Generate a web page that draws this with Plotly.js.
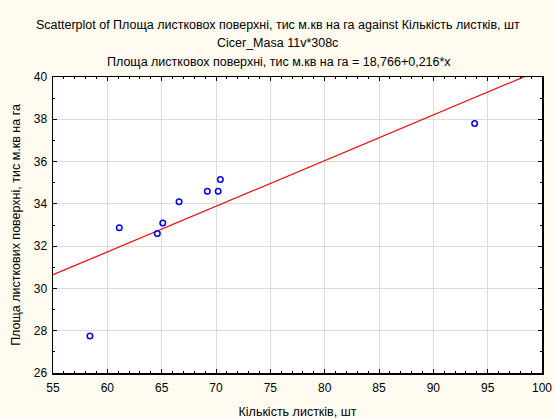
<!DOCTYPE html>
<html>
<head>
<meta charset="utf-8">
<script src="https://cdn.plot.ly/plotly-3.0.1.min.js"></script>
<style>html,body{margin:0;padding:0;background:#fffbf0;}#chart{width:555px;height:419px;}</style>
</head>
<body>
<div id="chart"></div>
<script>
const leafCount = [58.4, 61.1, 64.6, 65.1, 66.6, 69.2, 70.2, 70.4, 93.8];
const leafArea = [27.75, 32.87, 32.6, 33.1, 34.1, 34.6, 34.6, 35.15, 37.8];
const intercept = 18.766;
const slope = 0.216;
const fitX = [55, 100];
const fitY = fitX.map(x => intercept + slope * x);
const xTicks = [55, 60, 65, 70, 75, 80, 85, 90, 95, 100];
const yTicks = [26, 28, 30, 32, 34, 36, 38, 40];

const fam = 'Liberation Sans, Arial, sans-serif';
const tickFont = {family: fam, size: 12, color: '#000'};
const titleFont = {family: fam, size: 12.5, color: '#000'};

Plotly.newPlot('chart', [
  {x: fitX, y: fitY, mode: 'lines', line: {color: '#ff0000', width: 1.2}, hoverinfo: 'skip'},
  {x: leafCount, y: leafArea, mode: 'markers', marker: {symbol: 'circle-open', color: '#0000ff', size: 5.5, line: {width: 1.5, color: '#0000ff'}}}
], {
  width: 555, height: 419,
  paper_bgcolor: '#fffbf0', plot_bgcolor: '#ffffff',
  showlegend: false,
  margin: {l: 53, r: 13, t: 77, b: 46},
  font: tickFont,
  xaxis: {
    range: [55, 100], tickvals: xTicks, ticktext: xTicks.map(String),
    showgrid: true, gridcolor: '#dcdcdc', gridwidth: 1,
    zeroline: false, showline: true, linecolor: '#000', linewidth: 1.5, mirror: 'allticks',
    ticks: 'inside', ticklen: 4, tickcolor: '#000', ticklabelstandoff: 3,
    minor: {dtick: 1, ticks: 'inside', ticklen: 2, tickcolor: '#000', showgrid: false},
    tickfont: tickFont,
    title: {text: 'Кількість листків, шт', font: titleFont, standoff: 14}
  },
  yaxis: {
    range: [26, 40], tickvals: yTicks, ticktext: yTicks.map(String),
    showgrid: true, gridcolor: '#dcdcdc', gridwidth: 1,
    zeroline: false, showline: true, linecolor: '#000', linewidth: 1.5, mirror: 'allticks',
    ticks: 'inside', ticklen: 4, tickcolor: '#000', ticklabelstandoff: 2,
    minor: {dtick: 1, ticks: 'inside', ticklen: 2, tickcolor: '#000', showgrid: false},
    tickfont: tickFont,
    title: {text: 'Площа листкових поверхні, тис м.кв на га', font: titleFont, standoff: 10}
  },
  annotations: [
    {text: 'Scatterplot of Площа листковох поверхні, тис м.кв на га against Кількість листків, шт', xref: 'paper', yref: 'paper', x: 0.5, y: 1, xshift: -20, yshift: 52, showarrow: false, font: titleFont, xanchor: 'center', yanchor: 'middle'},
    {text: 'Cicer_Masa 11v*308c', xref: 'paper', yref: 'paper', x: 0.5, y: 1, xshift: -20, yshift: 34.5, showarrow: false, font: titleFont, xanchor: 'center', yanchor: 'middle'},
    {text: 'Площа листковох поверхні, тис м.кв на га = 18,766+0,216*x', xref: 'paper', yref: 'paper', x: 0.5, y: 1, xshift: -19, yshift: 15, showarrow: false, font: titleFont, xanchor: 'center', yanchor: 'middle'}
  ]
}, {staticPlot: true});
</script>
</body>
</html>
